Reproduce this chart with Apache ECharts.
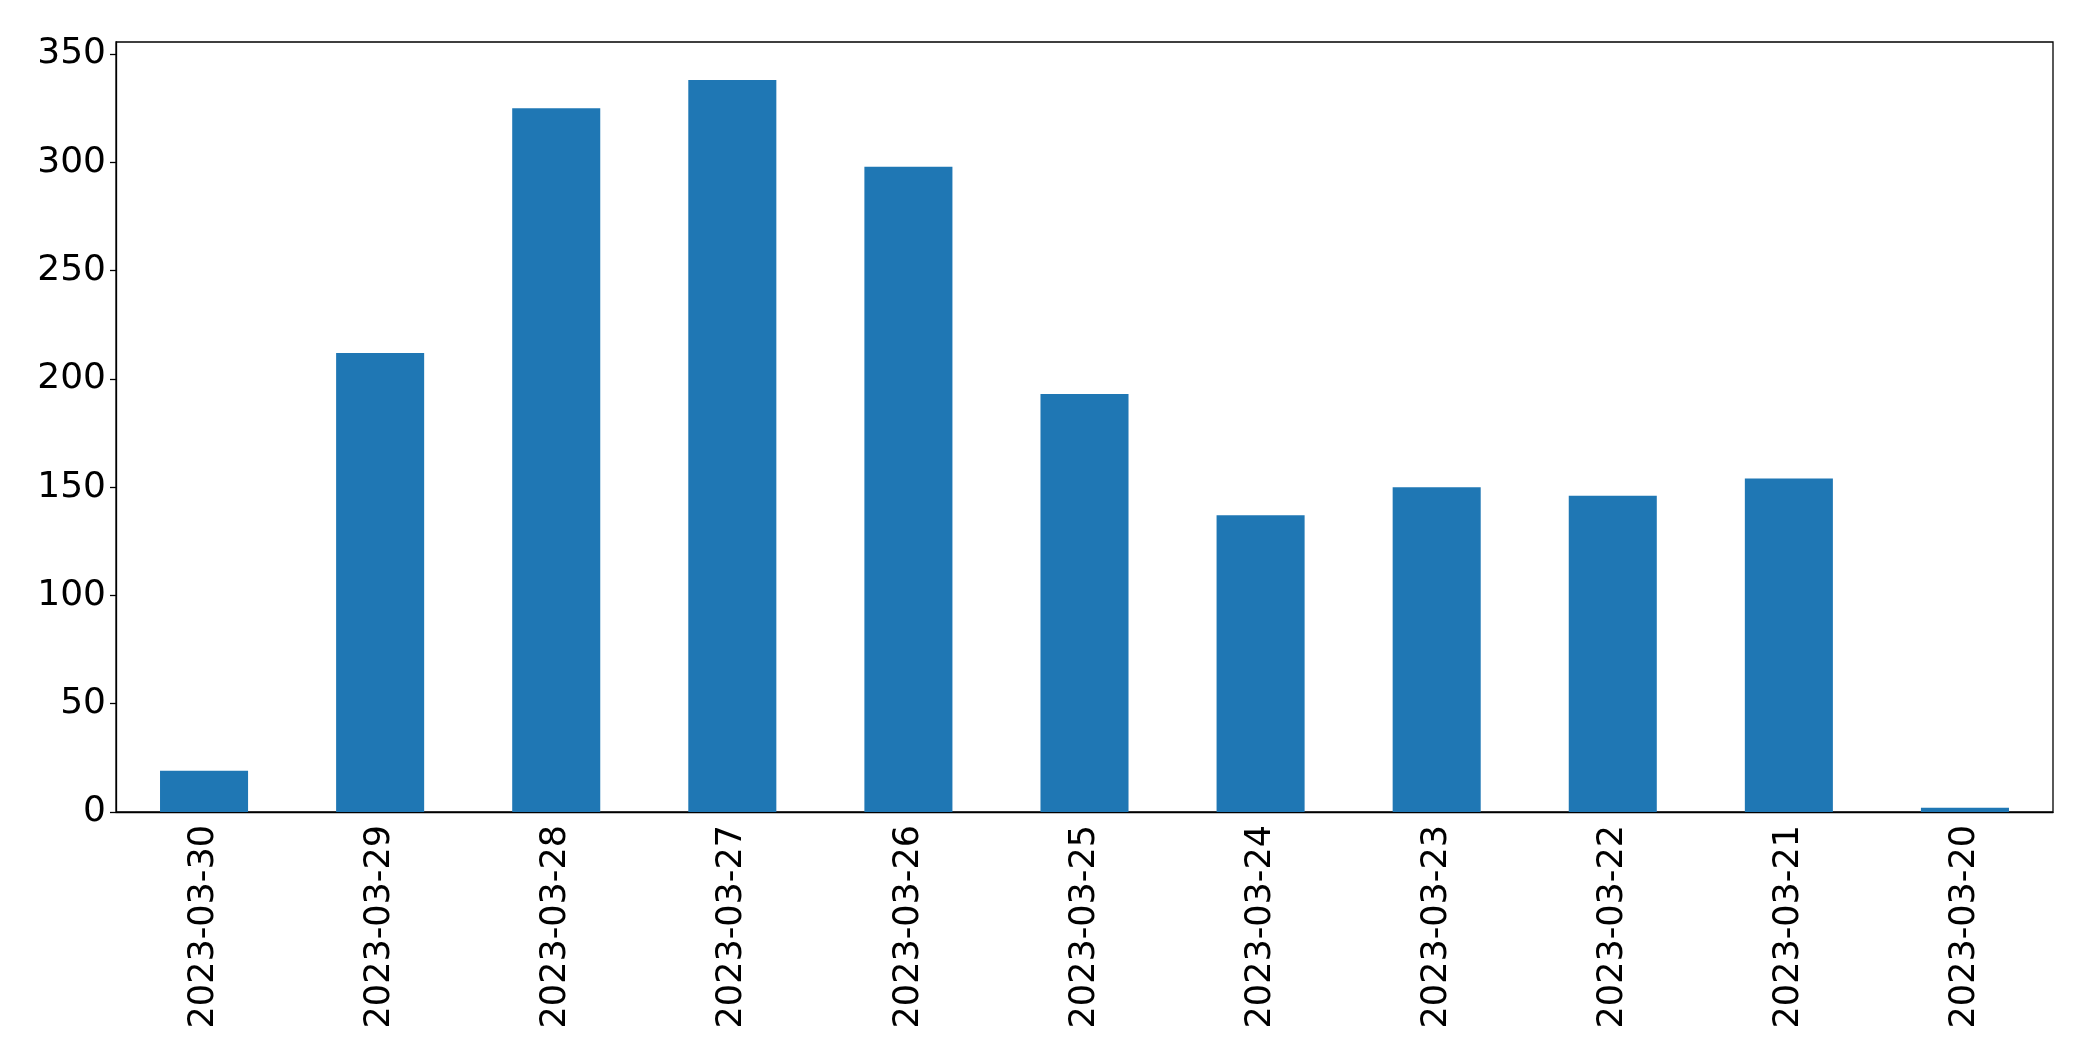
<!DOCTYPE html>
<html>
<head>
<meta charset="utf-8">
<script src="https://cdn.jsdelivr.net/npm/echarts@6/dist/echarts.min.js"></script>
<style>
  html, body { margin: 0; padding: 0; background: #fff; }
  #chart { width: 2093px; height: 1064px; }
</style>
</head>
<body>
<div id="chart"></div>
<script>
const dates = [
  '2023-03-30', '2023-03-29', '2023-03-28', '2023-03-27', '2023-03-26', '2023-03-25',
  '2023-03-24', '2023-03-23', '2023-03-22', '2023-03-21', '2023-03-20',
]
const counts = [19, 212, 325, 338, 298, 193, 137, 150, 146, 154, 2]
const yTicks = [0, 50, 100, 150, 200, 250, 300, 350]

const chart = echarts.init(document.getElementById('chart'))

const font = 'DejaVu Sans'

chart.setOption({
  animation: false,
  grid: {
    left: 116,
    right: 40,
    top: 42,
    bottom: 252,
    show: true,
    borderColor: '#000',
    borderWidth: 1.3,
  },
  xAxis: {
    type: 'category',
    data: dates,
    axisLine: { lineStyle: { color: '#000', width: 1.3 } },
    axisTick: { alignWithLabel: true, length: 6, lineStyle: { color: '#000', width: 1.3 } },
    axisLabel: {
      rotate: 90,
      color: '#000',
      fontFamily: font,
      fontSize: 35,
      margin: 13,
      interval: 0,
    },
    splitLine: { show: false },
  },
  yAxis: {
    type: 'value',
    min: 0,
    max: 355.6,
    interval: 50,
    axisLine: { show: true, lineStyle: { color: '#000', width: 1.3 } },
    axisTick: { show: true, length: 6, customValues: yTicks, lineStyle: { color: '#000', width: 1.3 } },
    axisLabel: {
      color: '#000',
      fontFamily: font,
      fontSize: 36,
      margin: 10,
      customValues: yTicks,
    },
    splitLine: { show: false },
  },
  series: [
    {
      type: 'bar',
      data: counts,
      barWidth: '50%',
      itemStyle: { color: '#1f77b4' },
    },
  ],
})
</script>
</body>
</html>
